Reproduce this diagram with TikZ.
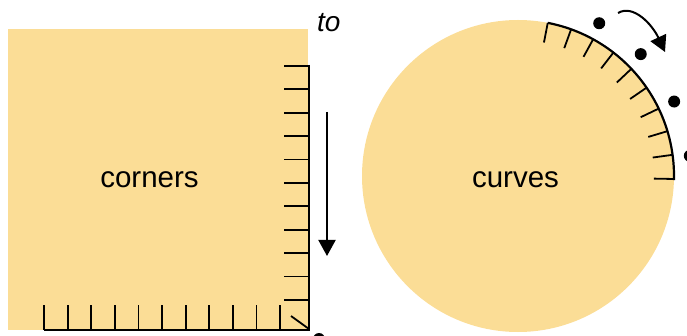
\documentclass[tikz,border=0pt]{standalone}
\usepackage{fontspec}
\setmainfont{Liberation Sans}
\usepackage{xcolor}
\definecolor{PatchFill}{RGB}{251,221,150}
\usepackage{tikz}
\usetikzlibrary{calc,arrows.meta,positioning}

\begin{document}
\begin{tikzpicture}[
    x=1pt, y=-1pt,
    patch/.style={fill=PatchFill, draw=none, inner sep=0pt},
    txt/.style={font=\fontsize{29.5}{35}\selectfont, inner sep=0pt},
    rim/.style={line width=2.2pt},
    tick/.style={line width=1.8pt},
    dot/.style={circle, fill=black, inner sep=0pt, minimum size=12pt},
    arr/.style={-{Triangle[length=16pt,width=17pt]}, line width=2pt}
]
    \useasboundingbox (0,0) rectangle (687,336);

    % left: square with ticks along two edges
    \node[patch, minimum width=300pt, minimum height=301pt] (board) at (158,179.5) {};
    \node[txt, anchor=base] (corners) at (149.5,188) {corners};
    \draw[rim] (309,65) -- (309,330) -- (44,330);
    \foreach \i in {0,...,10}
        \draw[tick] (284,{66+23.4*\i}) -- (309,{66+23.4*\i});
    \foreach \i in {0,...,10}
        \draw[tick] ({44+23.6*\i},305) -- ({44+23.6*\i},330);
    \draw[tick] (309,329) -- (291,316);
    \node[dot] (cornerdot) at (319,339) {};

    \coordinate (vtop) at (327,112);
    \coordinate (vbot) at (327,256);
    \draw[arr] (vtop) -- (vbot);
    \node[txt, anchor=base west, font=\fontsize{28}{34}\selectfont\itshape] (to) at (317,32) {to};

    % right: disc with ticks along an arc
    \node[patch, circle, minimum size=312pt] (disc) at (518,176) {};
    \node[txt, anchor=base] (curves) at (515.5,188) {curves};
    \draw[rim] ($(disc.center)+(-79:156)$) arc[start angle=-79, end angle=1.5, radius=156];
    \foreach \i in {0,...,9}
        \draw[tick] ($(disc.center)+({-79+8.9*\i}:156)$) -- ($(disc.center)+({-79+8.9*\i}:136)$);
    \foreach \a [count=\k] in {-62,-44.8,-25.5,-6.7}
        \node[dot] (d\k) at ($(disc.center)+(\a:173)$) {};

    \coordinate (ctop) at (618,13);
    \coordinate (cend) at (665,52);
    \draw[arr] (ctop) .. controls (633,4) and (652,24) .. (cend);
\end{tikzpicture}
\end{document}
